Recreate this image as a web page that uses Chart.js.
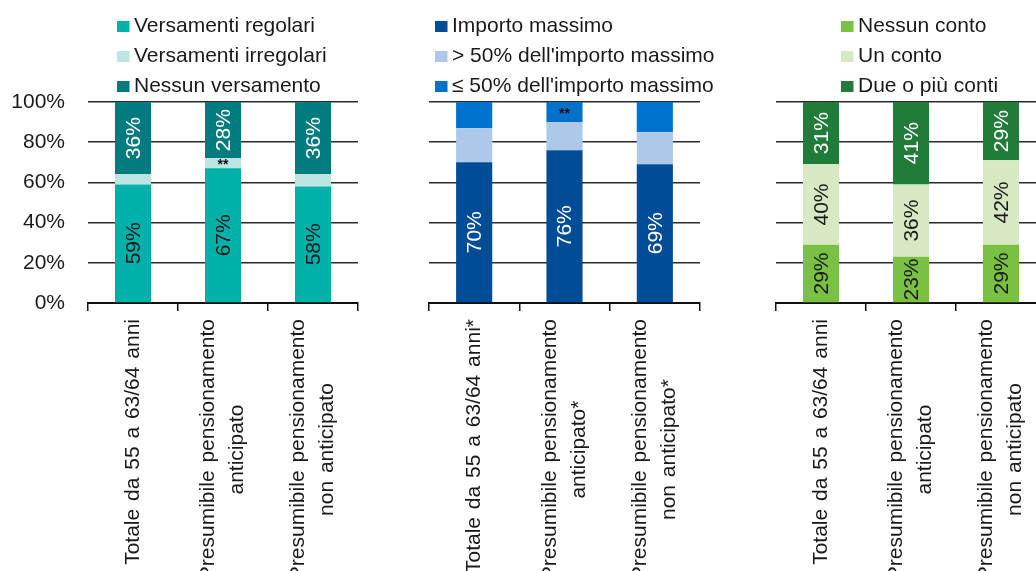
<!DOCTYPE html>
<html><head><meta charset="utf-8">
<script src="https://cdn.jsdelivr.net/npm/chart.js@4.4.0/dist/chart.umd.min.js"></script>
<style>
html,body{margin:0;padding:0;background:#fff;overflow:hidden;width:1036px;height:571px;position:relative;}
canvas{position:absolute;top:0;}
</style></head><body>
<canvas id="c1" width="360" height="600" style="left:0px"></canvas>
<canvas id="c2" width="360" height="600" style="left:360px"></canvas>
<canvas id="c3" width="340" height="600" style="left:720px"></canvas>
<script>
// ---- data ----
const categoriesA = [['Totale da 55 a 63/64 anni'], ['Presumibile pensionamento', 'anticipato'], ['Presumibile pensionamento', 'non anticipato']];
const categoriesB = [['Totale da 55 a 63/64 anni*'], ['Presumibile pensionamento', 'anticipato*'], ['Presumibile pensionamento', 'non anticipato*']];
const categoriesC = [['Totale da 55 a 63/64 anni'], ['Presumibile pensionamento', 'anticipato'], ['Presumibile pensionamento', 'non anticipato']];

const versamentiRegolari = [59, 67, 58];
const versamentiIrregolari = [5, 5, 6];
const nessunVersamento = [36, 28, 36];
const notesIrregolari = ['', '**', ''];

const importoMassimo = [70, 76, 69];
const oltre50 = [17, 14, 16];
const entro50 = [13, 10, 15];
const notesEntro50 = ['', '**', ''];

const nessunConto = [29, 23, 29];
const unConto = [40, 36, 42];
const dueConti = [31, 41, 29];

const yTickValues = [0, 20, 40, 60, 80, 100];

// ---- helpers ----
const FONT = '"Liberation Sans", Arial, Helvetica, sans-serif';
const FS = 21;
const FSX = 21;
const pct = arr => arr.map(v => v + '%');

const legendPlugin = {
  id: 'sideLegend',
  afterDraw(chart, args, opts) {
    const ctx = chart.ctx;
    ctx.save();
    ctx.font = `${FS}px ${FONT}`;
    ctx.textBaseline = 'alphabetic';
    ctx.textAlign = 'left';
    chart.data.datasets.forEach((ds, i) => {
      const b = opts.baselines[i];
      ctx.fillStyle = ds.backgroundColor;
      ctx.fillRect(opts.x, b - 11, 12.5, 11);
      ctx.fillStyle = '#1a1a1a';
      ctx.fillText(ds.label, opts.x + opts.gap, b);
    });
    ctx.restore();
  }
};

const xLabelPlugin = {
  id: 'xLabels',
  afterDraw(chart, args, opts) {
    const sc = chart.scales.x;
    const ctx = chart.ctx;
    ctx.save();
    ctx.font = `${FSX}px ${FONT}`;
    if ('wordSpacing' in ctx) ctx.wordSpacing = '2px';
    ctx.fillStyle = '#1a1a1a';
    ctx.textAlign = 'center';
    ctx.textBaseline = 'middle';
    chart.data.labels.forEach((lab, i) => {
      const lines = Array.isArray(lab) ? lab : [lab];
      const x0 = sc.getPixelForTick(i);
      const w = Math.max(...lines.map(l => ctx.measureText(l).width));
      const yc = sc.top + opts.offset + w / 2;
      lines.forEach((ln, k) => {
        const dx = (k - (lines.length - 1) / 2) * opts.lineHeight;
        ctx.save();
        ctx.translate(x0 + dx, yc);
        ctx.rotate(-Math.PI / 2);
        ctx.fillText(ln, 0, 0);
        ctx.restore();
      });
    });
    ctx.restore();
  }
};

const segLabelPlugin = {
  id: 'segLabels',
  afterDatasetsDraw(chart) {
    const ctx = chart.ctx;
    chart.data.datasets.forEach((ds, di) => {
      if (!ds.segLabels) return;
      const meta = chart.getDatasetMeta(di);
      meta.data.forEach((bar, i) => {
        const txt = ds.segLabels[i];
        if (!txt) return;
        const p = bar.getProps(['x', 'y', 'base'], true);
        const yc = (p.y + p.base) / 2;
        ctx.save();
        ctx.fillStyle = ds.segColor;
        ctx.textAlign = 'center';
        ctx.textBaseline = 'middle';
        ctx.translate(p.x, yc);
        if (ds.segRotate) {
          ctx.rotate(-Math.PI / 2);
          ctx.font = `${FS}px ${FONT}`;
        } else {
          ctx.font = `bold 14px ${FONT}`;
        }
        ctx.fillText(txt, 0, ds.segRotate ? 1 : 2);
        ctx.restore();
      });
    });
  }
};

function makeChart(id, labels, datasets, cfg) {
  return new Chart(document.getElementById(id), {
    type: 'bar',
    data: { labels, datasets },
    plugins: [legendPlugin, xLabelPlugin, segLabelPlugin],
    options: {
      responsive: false,
      animation: false,
      devicePixelRatio: 1,
      layout: { padding: { top: 102, right: cfg.padRight, bottom: 0, left: 0 } },
      datasets: { bar: { barPercentage: 0.4, categoryPercentage: 1.0, borderWidth: 0 } },
      plugins: {
        legend: { display: false },
        tooltip: { enabled: false },
        sideLegend: { x: cfg.legendX, gap: 17, baselines: [32, 62, 92] },
        xLabels: { offset: 16, lineHeight: 29 }
      },
      scales: {
        x: {
          stacked: true,
          grid: { display: true, drawOnChartArea: false, drawTicks: true, tickLength: 8, color: '#111', lineWidth: 1.5, offset: true },
          border: { display: true, color: '#111', width: 2 },
          ticks: { display: false },
          afterFit(s) { s.height = 297; }
        },
        y: {
          stacked: true,
          min: 0, max: 100,
          afterBuildTicks(s) { s.ticks = yTickValues.map(v => ({ value: v })); },
          grid: { color: '#2a2a2a', lineWidth: 1.5, drawTicks: false },
          border: { display: false },
          ticks: {
            display: cfg.showY,
            padding: 23,
            color: '#1a1a1a',
            font: { family: FONT, size: FS },
            callback: v => v + '%'
          },
          afterFit(s) { s.width = cfg.yWidth; }
        }
      }
    }
  });
}

makeChart('c1', categoriesA, [
  { label: 'Versamenti regolari', data: versamentiRegolari, backgroundColor: '#00b1a9', segLabels: pct(versamentiRegolari), segColor: '#1a1a1a', segRotate: true },
  { label: 'Versamenti irregolari', data: versamentiIrregolari, backgroundColor: '#bde5e1', segLabels: notesIrregolari, segColor: '#111', segRotate: false },
  { label: 'Nessun versamento', data: nessunVersamento, backgroundColor: '#007b80', segLabels: pct(nessunVersamento), segColor: '#ffffff', segRotate: true }
], { padRight: 2, yWidth: 88, showY: true, legendX: 117 });

makeChart('c2', categoriesB, [
  { label: 'Importo massimo', data: importoMassimo, backgroundColor: '#004c96', segLabels: pct(importoMassimo), segColor: '#ffffff', segRotate: true },
  { label: '> 50% dell\'importo massimo', data: oltre50, backgroundColor: '#adc8e8', segLabels: null },
  { label: '\u2264 50% dell\'importo massimo', data: entro50, backgroundColor: '#0072cc', segLabels: notesEntro50, segColor: '#111', segRotate: false }
], { padRight: 20, yWidth: 69, showY: false, legendX: 75 });

makeChart('c3', categoriesC, [
  { label: 'Nessun conto', data: nessunConto, backgroundColor: '#7ac143', segLabels: pct(nessunConto), segColor: '#1a1a1a', segRotate: true },
  { label: 'Un conto', data: unConto, backgroundColor: '#d6e9c3', segLabels: pct(unConto), segColor: '#1a1a1a', segRotate: true },
  { label: 'Due o più conti', data: dueConti, backgroundColor: '#217b39', segLabels: pct(dueConti), segColor: '#ffffff', segRotate: true }
], { padRight: 14, yWidth: 56, showY: false, legendX: 121 });
</script>
</body></html>
